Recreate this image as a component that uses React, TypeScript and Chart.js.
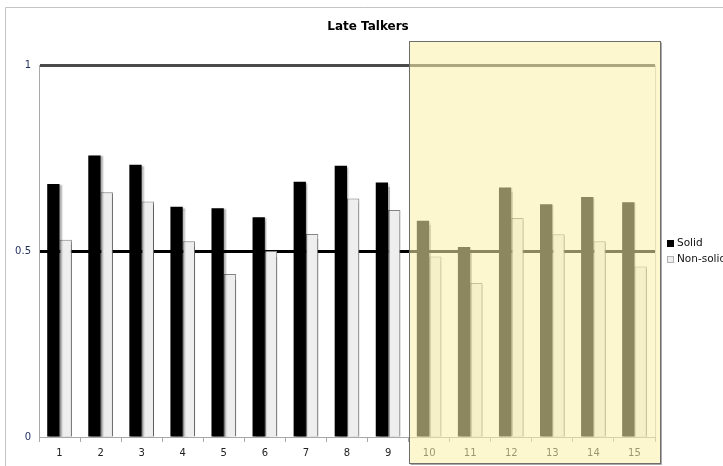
import React, { useEffect, useRef } from 'react';
import { Chart, registerables } from 'chart.js';

Chart.register(...registerables);

const categories = ['1', '2', '3', '4', '5', '6', '7', '8', '9', '10', '11', '12', '13', '14', '15'];
const solidValues = [0.68, 0.757, 0.732, 0.619, 0.615, 0.591, 0.686, 0.729, 0.684, 0.581, 0.511, 0.671, 0.626, 0.645, 0.631];
const nonSolidValues = [0.53, 0.658, 0.633, 0.526, 0.438, 0.5, 0.546, 0.641, 0.61, 0.485, 0.414, 0.589, 0.545, 0.526, 0.458];
const yTickValues = [0, 0.5, 1];
const seriesLabels = ['Solid', 'Non-solid'];
const highlightStartIndex = 9; // first highlighted category ("10")

const FONT = 'DejaVu Sans';

const framePlugin = {
  id: 'frame',
  beforeDraw(chart: any) {
    const ctx = chart.ctx;
    ctx.save();
    ctx.strokeStyle = '#c4c4c4';
    ctx.lineWidth = 1;
    ctx.beginPath();
    ctx.moveTo(5.5, chart.height);
    ctx.lineTo(5.5, 7.5);
    ctx.lineTo(chart.width, 7.5);
    ctx.stroke();
    ctx.restore();
  },
  beforeDatasetsDraw(chart: any) {
    const ctx = chart.ctx;
    const a = chart.chartArea;
    ctx.save();
    ctx.strokeStyle = '#c8c8c8';
    ctx.lineWidth = 1;
    ctx.beginPath();
    ctx.moveTo(a.right + 0.5, a.top);
    ctx.lineTo(a.right + 0.5, a.bottom);
    ctx.stroke();
    ctx.restore();
    // drop shadow for bars
    ctx.save();
    ctx.shadowColor = 'rgba(0,0,0,0.3)';
    ctx.shadowOffsetX = 2;
    ctx.shadowOffsetY = 1;
    ctx.shadowBlur = 1.5;
  },
  afterDatasetsDraw(chart: any) {
    chart.ctx.restore();
  },
};

const highlightPlugin = {
  id: 'highlight',
  afterDraw(chart: any) {
    const ctx = chart.ctx;
    const xs = chart.scales.x;
    const a = chart.chartArea;
    const left = Math.round((xs.getPixelForValue(highlightStartIndex - 1) + xs.getPixelForValue(highlightStartIndex)) / 2) + 0.5;
    const right = Math.round(a.right + 5) + 0.5;
    const top = Math.round(a.top - 24) + 0.5;
    const bottom = Math.round(a.bottom + 26) + 0.5;
    ctx.save();
    ctx.fillStyle = 'rgba(251,240,170,0.56)';
    ctx.fillRect(left, top, right - left, bottom - top);
    ctx.strokeStyle = '#a9a9a9';
    ctx.lineWidth = 1;
    ctx.beginPath();
    ctx.moveTo(right + 1, top + 1);
    ctx.lineTo(right + 1, bottom + 1);
    ctx.lineTo(left + 1, bottom + 1);
    ctx.stroke();
    ctx.strokeStyle = '#6e6e6e';
    ctx.strokeRect(left, top, right - left, bottom - top);
    ctx.restore();

    // legend
    const ds = chart.data.datasets;
    const cy = (a.top + a.bottom) / 2;
    const lx = a.right + 12;
    const rows = [cy - 7.5, cy + 8];
    ctx.save();
    ctx.font = `10.5px "${FONT}"`;
    ctx.textBaseline = 'middle';
    ctx.textAlign = 'left';
    ds.forEach((d: any, i: number) => {
      const y = rows[i];
      ctx.fillStyle = d.backgroundColor;
      ctx.fillRect(lx, Math.round(y - 3.5), 7, 7);
      if (d.borderWidth) {
        ctx.strokeStyle = '#b0b0b0';
        ctx.lineWidth = 1;
        ctx.strokeRect(lx + 0.5, Math.round(y - 3.5) + 0.5, 6, 6);
      }
      ctx.fillStyle = '#111';
      ctx.fillText(d.label, lx + 10, y);
    });
    ctx.restore();
  },
};

export default function App() {
  const ref = useRef<HTMLCanvasElement | null>(null);

  useEffect(() => {
    if (!ref.current) return;
    const chart = new Chart(ref.current, {
      type: 'bar',
      data: {
        labels: categories,
        datasets: [
          {
            label: seriesLabels[0],
            data: solidValues,
            backgroundColor: '#000000',
            borderWidth: 0,
            categoryPercentage: 0.6,
            barPercentage: 1,
          },
          {
            label: seriesLabels[1],
            data: nonSolidValues,
            backgroundColor: '#eeeeee',
            borderColor: '#858585',
            borderWidth: 1,
            categoryPercentage: 0.6,
            barPercentage: 1,
          },
        ],
      },
      options: {
        responsive: false,
        animation: false,
        layout: { padding: { left: 13, right: 0, top: 0, bottom: 0 } },
        plugins: {
          legend: { display: false },
          tooltip: { enabled: false },
          title: {
            display: true,
            text: 'Late Talkers',
            color: '#000',
            font: { family: FONT, size: 12, weight: 'bold' },
            padding: { top: 20, bottom: 30.6 },
          },
        },
        scales: {
          x: {
            grid: {
              display: true,
              drawOnChartArea: false,
              drawTicks: true,
              tickLength: 5,
              color: '#a8a8a8',
              offset: true,
            },
            border: { color: '#a8a8a8', width: 1 },
            ticks: {
              padding: 5,
              color: '#222',
              maxRotation: 0,
              autoSkip: false,
              font: { family: FONT, size: 10 },
            },
            afterFit: (s: any) => {
              s.height = 29;
            },
          },
          y: {
            min: 0,
            max: 1,
            afterBuildTicks: (s: any) => {
              s.ticks = yTickValues.map((v) => ({ value: v }));
            },
            ticks: {
              padding: 8,
              color: '#1f2d5c',
              font: { family: FONT, size: 10 },
              callback: (v: any) => String(v),
            },
            grid: {
              drawTicks: false,
              color: (c: any) =>
                c.tick && c.tick.value === 0.5 ? '#000000' : c.tick && c.tick.value === 1 ? '#4a4a4a' : 'rgba(0,0,0,0)',
              lineWidth: (c: any) => (c.tick && (c.tick.value === 0.5 || c.tick.value === 1) ? 3 : 1),
            },
            border: { color: '#a8a8a8', width: 1 },
            afterFit: (s: any) => {
              s.width = 26;
            },
          },
          y2: {
            position: 'right',
            display: true,
            min: 0,
            max: 1,
            grid: { display: false },
            border: { display: false },
            ticks: { display: false },
            afterFit: (s: any) => {
              s.width = 68;
            },
          },
        },
      } as any,
      plugins: [framePlugin, highlightPlugin],
    });
    return () => chart.destroy();
  }, []);

  return (
    <div style={{ position: 'fixed', left: 0, top: 0, width: 723, height: 466, background: '#fff' }}>
      <canvas ref={ref} width={723} height={466} style={{ display: 'block' }} />
    </div>
  );
}
